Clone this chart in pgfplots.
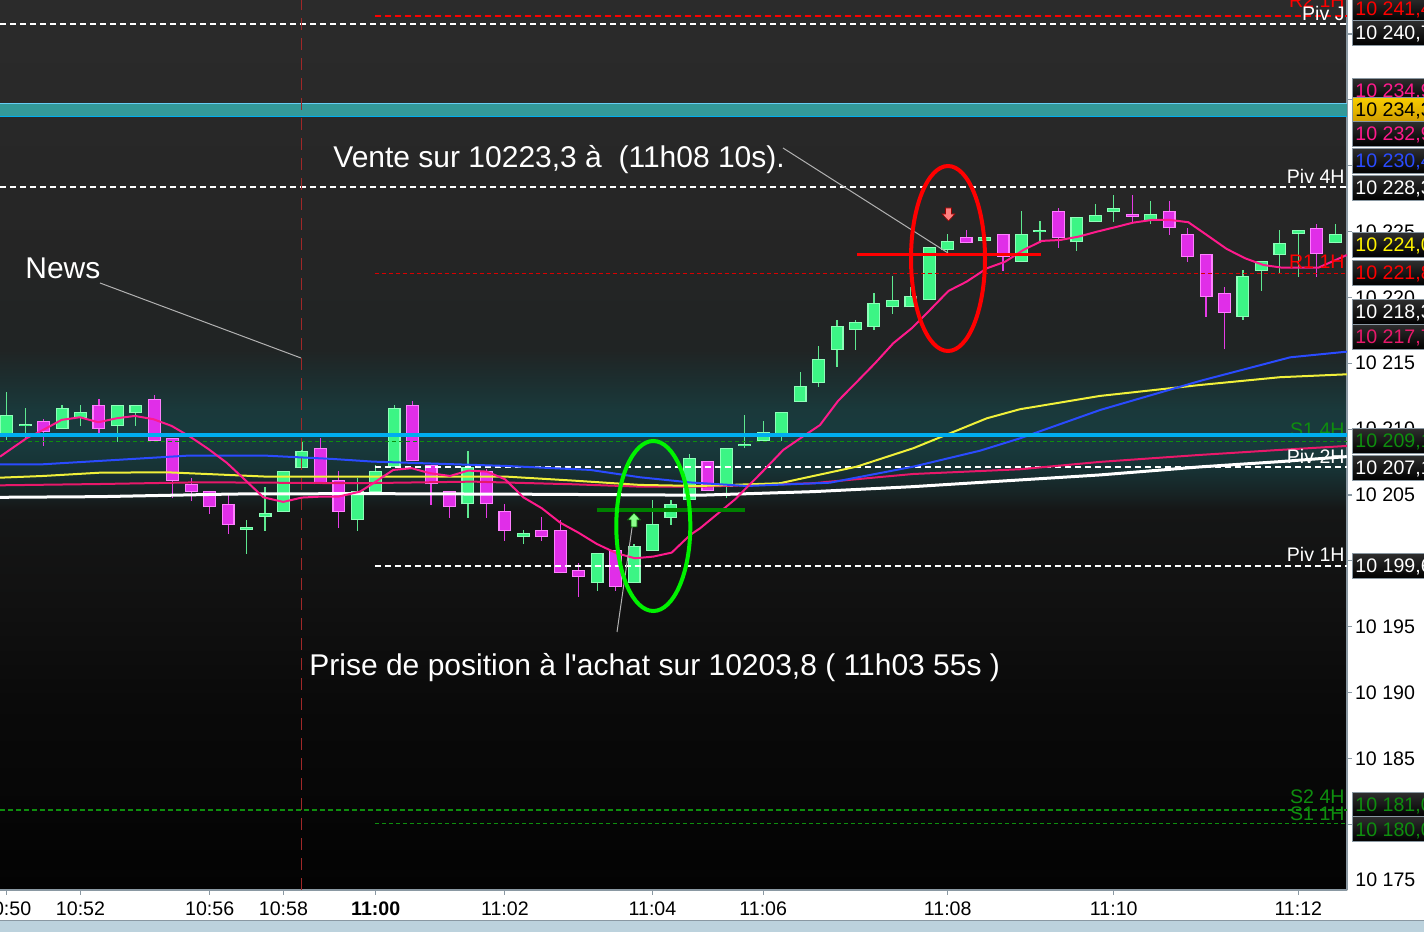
\documentclass[border=0pt]{standalone}
\usepackage{fontspec}
\setmainfont{Liberation Sans}
\usepackage{pgfplots}
\usepackage{pgfplotstable}
\pgfplotsset{compat=1.18}

% colours
\definecolor{candG}{HTML}{3CF585}
\definecolor{candGb}{HTML}{8CFFB8}
\definecolor{candM}{HTML}{E02EE8}
\definecolor{candMb}{HTML}{FF80FF}
\definecolor{wickG}{HTML}{5EE890}
\definecolor{wickM}{HTML}{E63CE6}
\definecolor{maPink}{HTML}{FF1A8C}
\definecolor{maBlue}{HTML}{2A4BFF}
\definecolor{maYel}{HTML}{F0F03A}
\definecolor{maRed}{HTML}{E8186A}
\definecolor{axgray}{HTML}{8A98A2}
\definecolor{lvlgreen}{HTML}{0E8E0E}
\definecolor{bandteal}{HTML}{339999}
\definecolor{gold}{HTML}{F5B800}
\definecolor{newsred}{HTML}{A02828}
\definecolor{strip}{HTML}{BCD2DD}

\definecolor{bgA}{HTML}{030303}
\definecolor{bgB}{HTML}{0A0A0A}
\definecolor{bgC}{HTML}{111111}
\definecolor{bgD}{HTML}{151616}
\definecolor{bgE}{HTML}{172223}
\definecolor{bgF}{HTML}{173234}
\definecolor{bgG}{HTML}{183B3E}
\definecolor{bgH}{HTML}{1A393B}
\definecolor{bgI}{HTML}{1C2E2F}
\definecolor{bgJ}{HTML}{202424}
\definecolor{bgK}{HTML}{252525}
\definecolor{bgL}{HTML}{2B2B2B}
\pgfdeclareverticalshading{chartbg}{100bp}{color(0bp)=(bgA); color(25bp)=(bgA);
  color(35.67bp)=(bgB); color(41.29bp)=(bgC); color(46.35bp)=(bgD);
  color(47.19bp)=(bgE); color(48.6bp)=(bgF); color(50.28bp)=(bgG);
  color(51.97bp)=(bgH); color(53.65bp)=(bgI); color(55.34bp)=(bgJ);
  color(60.96bp)=(bgK); color(75bp)=(bgL); color(100bp)=(bgL)}

\newcommand{\ft}{\fontsize{9.8}{11}\selectfont}
\newcommand{\fa}{\fontsize{15}{18}\selectfont}

% candles: index, open, high, low, close
\pgfplotstableread{
i o h l c
0 10209.40 10212.82 10209.18 10211.07
1 10210.25 10211.60 10209.18 10210.40
3 10210.03 10211.83 10210.00 10211.58
4 10210.85 10211.83 10210.26 10211.28
6 10210.26 10211.83 10209.05 10211.81
7 10211.25 10211.85 10210.26 10211.81
13 10202.32 10203.10 10200.54 10202.55
14 10203.31 10205.61 10202.29 10203.61
15 10203.73 10206.82 10203.73 10206.82
16 10207.07 10209.05 10207.07 10208.34
19 10203.08 10206.27 10202.29 10205.30
20 10205.25 10207.28 10205.25 10206.82
21 10207.10 10211.83 10207.10 10211.58
25 10204.29 10208.34 10203.28 10207.10
28 10201.79 10202.34 10201.26 10202.09
32 10198.30 10200.60 10197.73 10200.60
34 10198.30 10201.28 10198.30 10201.13
35 10200.77 10204.62 10200.77 10202.77
36 10203.28 10204.62 10202.74 10204.29
37 10204.60 10208.11 10204.60 10207.79
39 10205.63 10208.55 10204.75 10208.55
40 10208.72 10211.07 10208.55 10208.87
41 10209.12 10210.62 10209.12 10209.76
42 10209.43 10211.28 10209.12 10211.28
43 10212.08 10214.34 10212.08 10213.25
44 10213.53 10216.31 10213.22 10215.30
45 10216.03 10218.29 10214.74 10217.81
46 10217.55 10218.29 10216.03 10218.11
47 10217.78 10220.34 10217.55 10219.56
48 10219.25 10221.63 10218.77 10219.81
49 10219.25 10220.82 10219.25 10220.09
50 10219.81 10223.81 10219.81 10223.81
51 10223.58 10224.82 10223.35 10224.26
53 10224.26 10224.57 10224.26 10224.57
55 10222.71 10226.56 10222.71 10224.82
56 10224.97 10225.80 10224.11 10225.12
58 10224.23 10226.09 10223.55 10226.09
59 10225.75 10227.10 10225.75 10226.26
60 10226.51 10227.78 10225.75 10226.77
62 10225.83 10227.32 10225.58 10226.31
67 10218.54 10222.08 10218.29 10221.63
68 10222.03 10222.77 10220.51 10222.77
69 10223.24 10225.12 10221.76 10224.13
70 10224.80 10225.12 10221.57 10225.12
72 10224.11 10225.58 10224.11 10224.82
}\greenC

\pgfplotstableread{
i o h l c
2 10210.59 10210.77 10208.74 10209.76
5 10211.81 10212.29 10209.73 10210.03
8 10212.27 10212.59 10209.08 10209.08
9 10209.30 10209.30 10204.75 10206.09
10 10205.81 10206.27 10204.57 10205.25
11 10205.28 10205.28 10203.58 10204.07
12 10204.29 10204.98 10202.06 10202.74
17 10208.55 10209.30 10205.81 10205.81
18 10206.14 10206.82 10202.52 10203.73
22 10211.81 10212.13 10207.56 10207.56
23 10207.28 10207.28 10204.24 10205.81
24 10205.30 10205.30 10203.28 10204.07
26 10206.82 10206.97 10203.28 10204.29
27 10203.78 10204.32 10201.53 10202.29
29 10202.34 10203.33 10201.53 10201.79
30 10202.34 10203.08 10199.05 10199.05
31 10199.28 10199.81 10197.28 10198.75
33 10200.80 10200.80 10197.73 10198.04
38 10207.56 10207.56 10205.30 10205.30
52 10224.57 10225.12 10224.11 10224.11
54 10224.80 10224.80 10222.03 10223.07
57 10226.56 10226.77 10223.78 10224.54
61 10226.31 10227.78 10225.75 10226.13
63 10226.56 10227.32 10224.74 10225.25
64 10224.82 10225.25 10222.71 10223.05
65 10223.30 10223.30 10218.54 10220.06
66 10220.31 10220.77 10216.06 10218.80
71 10225.25 10225.58 10221.57 10223.30
}\magC

% moving averages
\pgfplotstableread{
x y
-0.36 10207.91
1.08 10209.31
1.98 10209.94
2.98 10210.70
3.97 10210.90
4.96 10210.52
5.96 10210.82
6.95 10211.00
7.95 10210.75
8.94 10210.24
9.93 10209.43
10.93 10208.49
11.92 10207.45
12.92 10206.14
13.91 10204.82
14.99 10204.47
15.99 10204.80
16.98 10204.87
17.97 10204.87
19.15 10205.25
19.87 10205.89
20.95 10206.90
21.95 10207.03
22.94 10206.65
24.03 10206.44
25.02 10206.85
26.02 10206.77
27.01 10206.19
28.00 10204.82
29.00 10203.99
29.99 10202.90
30.98 10202.14
31.98 10201.28
33.06 10200.57
34.05 10200.19
35.05 10200.32
36.04 10200.62
37.04 10201.96
37.58 10202.47
39.48 10204.67
41.01 10206.84
42.09 10208.42
43.09 10209.38
44.08 10210.31
45.07 10212.16
46.07 10213.58
47.06 10215.00
48.05 10216.52
49.05 10217.66
50.04 10219.05
51.04 10220.49
52.03 10221.20
53.12 10222.21
54.11 10222.71
55.10 10223.60
56.10 10224.29
57.09 10224.36
58.08 10224.61
59.08 10224.99
60.07 10225.33
61.06 10225.68
62.06 10225.88
63.05 10225.88
64.04 10225.71
65.04 10224.74
66.12 10223.68
67.12 10222.97
68.11 10222.46
69.11 10222.26
70.10 10222.26
71.09 10222.26
72.63 10223.22
}\maPinkT

\pgfplotstableread{
x y
-0.36 10207.33
1.98 10207.33
5.96 10207.66
9.76 10207.98
14.09 10207.98
17.69 10207.73
19.85 10207.53
27.10 10207.20
31.62 10206.90
34.33 10206.34
37.04 10205.95
40.11 10205.68
44.62 10205.93
49.14 10207.15
52.75 10208.36
54.92 10209.30
59.26 10211.45
64.68 10213.66
69.56 10215.45
72.63 10215.88
}\maBlueT

\pgfplotstableread{
x y
-0.36 10206.31
1.97 10206.44
5.06 10206.69
8.67 10206.72
11.18 10206.57
14.09 10206.39
19.15 10206.39
27.10 10206.39
30.69 10206.09
34.33 10205.76
37.58 10205.68
41.91 10205.89
46.07 10207.15
49.14 10208.55
53.12 10210.82
54.92 10211.51
59.26 10212.52
64.68 10213.35
69.01 10213.94
72.63 10214.16
}\maYelT

\pgfplotstableread{
x y
-0.36 10205.73
5.06 10205.83
10.48 10205.96
19.15 10205.89
25.27 10206.01
30.69 10205.81
34.33 10205.63
37.58 10205.63
43.70 10205.89
49.12 10206.59
54.92 10206.95
59.26 10207.51
64.68 10208.04
69.01 10208.42
72.63 10208.72
}\maRedT

\pgfplotstableread{
x y
-0.36 10204.82
5.06 10204.87
12.27 10205.07
19.15 10205.10
28.91 10205.05
37.58 10204.98
43.70 10205.25
49.12 10205.63
54.92 10206.14
59.26 10206.52
64.68 10207.13
69.01 10207.53
72.63 10207.91
}\maWhiteT

\begin{document}
\begin{tikzpicture}
\useasboundingbox (0,0) rectangle (712pt,466pt);
\fill[white] (0,0) rectangle (712pt,466pt);
\begin{scope}
\clip (0,0) rectangle (712pt,466pt);
\begin{axis}[
  at={(0,21pt)}, anchor=south west,
  scale only axis, width=673.5pt, height=445pt,
  xmin=-0.363, xmax=72.64, ymin=10175, ymax=10242.585,
  axis background/.style={shade, shading=chartbg},
  separate axis lines,
  axis x line*=bottom, axis y line*=right,
  axis line style={draw=axgray, line width=1pt},
  tick align=outside, major tick length=2.5pt,
  tick style={draw=axgray, line width=0.6pt},
  xtick={0,4,11,15,20,27,35,41,51,60,70},
  xticklabels={10:50,10:52,10:56,10:58,\textbf{11:00},11:02,11:04,11:06,11:08,11:10,11:12},
  ytick={10180,10185,...,10240},
  yticklabels={10 180,10 185,10 190,10 195,10 200,10 205,10 210,10 215,10 220,10 225,10 230,10 235,10 240},
  xticklabel style={font=\ft, text=black},
  yticklabel style={font=\ft, text=black, xshift=-2pt},
]
% wicks
\addplot[draw=none, mark=none, error bars/.cd, y dir=plus, y explicit, error mark=none,
  error bar style={draw=wickG, line width=0.6pt}]
  table[x=i, y=l, y error plus expr=\thisrow{h}-\thisrow{l}] {\greenC};
\addplot[draw=none, mark=none, error bars/.cd, y dir=plus, y explicit, error mark=none,
  error bar style={draw=wickM, line width=0.6pt}]
  table[x=i, y=l, y error plus expr=\thisrow{h}-\thisrow{l}] {\magC};
% bodies: border then fill
\addplot[draw=none, mark=none, error bars/.cd, y dir=plus, y explicit, error mark=none,
  error bar style={draw=candGb, line width=6.5pt, line cap=butt}]
  table[x=i, y=o, y error plus expr=\thisrow{c}-\thisrow{o}] {\greenC};
\addplot[draw=none, mark=none, error bars/.cd, y dir=plus, y explicit, error mark=none,
  error bar style={draw=candMb, line width=6.5pt, line cap=butt}]
  table[x=i, y=c, y error plus expr=\thisrow{o}-\thisrow{c}] {\magC};
\addplot[draw=none, mark=none, error bars/.cd, y dir=plus, y explicit, error mark=none,
  error bar style={draw=candG, line width=5.3pt, line cap=butt}]
  table[x=i, y expr=\thisrow{o}+0.08, y error plus expr=\thisrow{c}-\thisrow{o}-0.16] {\greenC};
\addplot[draw=none, mark=none, error bars/.cd, y dir=plus, y explicit, error mark=none,
  error bar style={draw=candM, line width=5.3pt, line cap=butt}]
  table[x=i, y expr=\thisrow{c}+0.08, y error plus expr=\thisrow{o}-\thisrow{c}-0.16] {\magC};

% levels
\draw[red, line width=1pt, dash pattern=on 3pt off 2pt] (axis cs:19.96,10241.37) -- (axis cs:72.64,10241.37);
\draw[white, line width=1pt, dash pattern=on 3pt off 2pt] (axis cs:-0.363,10240.76) -- (axis cs:72.64,10240.76);
\fill[bandteal] (axis cs:-0.363,10233.70) rectangle (axis cs:72.64,10234.76);
\draw[cyan!60!white, line width=0.5pt] (axis cs:-0.363,10234.76) -- (axis cs:72.64,10234.76);
\draw[cyan, line width=0.5pt] (axis cs:-0.363,10233.70) -- (axis cs:72.64,10233.70);
\draw[white, line width=1pt, dash pattern=on 3pt off 2pt] (axis cs:-0.363,10228.38) -- (axis cs:72.64,10228.38);
\draw[red!85!black, line width=0.5pt, dash pattern=on 2pt off 1.5pt] (axis cs:19.96,10221.84) -- (axis cs:72.64,10221.84);
\draw[lvlgreen, line width=0.5pt, dash pattern=on 2pt off 1.5pt] (axis cs:-0.363,10209.07) -- (axis cs:72.64,10209.07);
\draw[white, line width=1pt, dash pattern=on 3pt off 2pt] (axis cs:19.96,10207.13) -- (axis cs:72.64,10207.13);
\draw[white, line width=1pt, dash pattern=on 3pt off 2pt] (axis cs:19.96,10199.61) -- (axis cs:72.64,10199.61);
\draw[lvlgreen, line width=1pt, dash pattern=on 2.5pt off 1.5pt] (axis cs:-0.363,10181.08) -- (axis cs:72.64,10181.08);
\draw[lvlgreen, line width=0.5pt, dash pattern=on 2pt off 1.5pt] (axis cs:19.96,10180.02) -- (axis cs:72.64,10180.02);
\draw[newsred, line width=0.5pt, dash pattern=on 6pt off 4pt] (axis cs:16,10175) -- (axis cs:16,10242.585);

% moving averages
\addplot[white, line width=1.5pt, line join=round] table {\maWhiteT};
\addplot[maRed, line width=1pt, line join=round] table {\maRedT};
\addplot[maYel, line width=1pt, line join=round] table {\maYelT};
\addplot[maBlue, line width=1pt, line join=round] table {\maBlueT};
\addplot[maPink, line width=1pt, line join=round] table {\maPinkT};
\draw[cyan, line width=2pt] (axis cs:-0.363,10209.56) -- (axis cs:72.64,10209.56);
\end{axis}

% annotations, in image pixels
\begin{scope}[shift={(0pt,466pt)}, x=0.5pt, y=-0.5pt]
  % level names
  \begin{scope}[every node/.style={font=\ft, inner sep=0pt, anchor=base east}]
    \node[text=red] at (1345,8) {R2 1H};
    \node[text=white] at (1345,21) {Piv J};
    \node[text=white] at (1345,184) {Piv 4H};
    \node[text=red] at (1345,269) {R1 1H};
    \node[text=lvlgreen] at (1345,437) {S1 4H};
    \node[text=white] at (1345,464) {Piv 2H};
    \node[text=white] at (1345,562) {Piv 1H};
    \node[text=lvlgreen] at (1345,804) {S2 4H};
    \node[text=lvlgreen] at (1345,820) {S1 1H};
  \end{scope}
  \draw[cyan, line width=2pt] (1200,435) -- (1347,435);

  % notes
  \node[font=\fa, text=white, anchor=base west, inner sep=0pt] at (25,279) {News};
  \draw[gray!60!white, line width=0.5pt] (100,283) -- (301,358);
  \node[font=\fa, text=white, anchor=base west, inner sep=0pt] at (333,168) {Vente sur 10223,3 à\ \ (11h08 10s).};
  \draw[gray!60!white, line width=0.5pt] (783,148) -- (948,253);
  \node[font=\fa, text=white, anchor=base west, inner sep=0pt] at (309,676) {Prise de position à l\textquotesingle achat sur 10203,8 ( 11h03 55s )};
  \draw[gray!60!white, line width=0.5pt] (617,632) -- (634,514);

  \draw[green!50!black, line width=2pt] (597,510) -- (745,510);
  \draw[green!95!black, line width=2pt] (653.3,526) ellipse [x radius=37, y radius=85];
  \draw[red, line width=1.5pt] (857,255) -- (1041,255);
  \draw[red, line width=2pt] (948,258.5) ellipse [x radius=37, y radius=92.5];
  \filldraw[fill=green!45!white, draw=green!40!black, line width=0.3pt]
    (631,527) -- (631,520) -- (627.5,520) -- (634,513) -- (640.5,520) -- (637,520) -- (637,527) -- cycle;
  \filldraw[fill=red!50!white, draw=red!60!black, line width=0.3pt]
    (945.5,208) -- (945.5,214) -- (942,214) -- (948.5,221) -- (955,214) -- (951.5,214) -- (951.5,208) -- cycle;

  % price tags
  \begin{scope}[every node/.style={font=\ft, inner sep=0pt, anchor=base west}]
    \def\tag#1#2#3{%
      \shade[top color=black!82, bottom color=black, draw=axgray, line width=0.5pt]
        (1352,#1-12.5) rectangle (1440,#1+12.5);
      \node[text=#3] at (1355,#1+7) {#2};}
    \tag{9}{10 241,4}{red}
    \tag{33}{10 240,7}{white}
    \tag{91}{10 234,9}{maPink}
    \shade[top color=gold!70!yellow, bottom color=gold!85!black, draw=axgray, line width=0.5pt]
      (1352,97.5) rectangle (1440,122.5);
    \node[text=black] at (1355,117) {10 234,3};
    \tag{134}{10 232,9}{maPink}
    \tag{161}{10 230,4}{maBlue}
    \tag{188}{10 228,3}{white}
    \tag{245}{10 224,0}{yellow}
    \tag{273}{10 221,8}{red}
    \tag{312}{10 218,3}{white}
    \tag{337}{10 217,7}{maRed}
    \tag{441}{10 209,1}{lvlgreen}
    \tag{468}{10 207,1}{white}
    \tag{566}{10 199,6}{white}
    \tag{805}{10 181,0}{lvlgreen}
    \tag{829}{10 180,0}{lvlgreen}
    \node[text=black] at (1355,886) {10 175};
  \end{scope}

  % bottom strip
  \fill[strip] (0,920) rectangle (1424,932);
  \draw[axgray, line width=0.5pt] (0,920) -- (1424,920);
\end{scope}
\end{scope}
\end{tikzpicture}
\end{document}
